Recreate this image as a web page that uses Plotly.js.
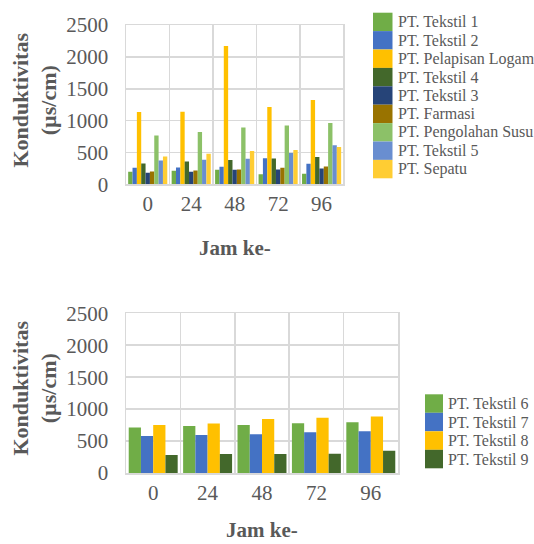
<!DOCTYPE html>
<html><head><meta charset="utf-8">
<script src="https://cdn.plot.ly/plotly-3.0.1.min.js"></script>
<style>body{margin:0;padding:0;background:#fff}#c{width:534px;height:544px}</style>
</head><body><div id="c"></div>
<script>
const jam = ["0","24","48","72","96"];
const namesTop = ["PT. Tekstil 1","PT. Tekstil 2","PT. Pelapisan Logam","PT. Tekstil 4","PT. Tekstil 3","PT. Farmasi","PT. Pengolahan Susu","PT. Tekstil 5","PT. Sepatu"];
const tekstil1 = [200, 214, 230, 162, 167];
const tekstil2 = [261, 267, 277, 413, 324];
const pelapisanLogam = [1135, 1140, 2170, 1213, 1323];
const tekstil4 = [330, 361, 382, 408, 429];
const tekstil3 = [183, 199, 230, 235, 251];
const farmasi = [204, 220, 235, 261, 282];
const pengolahanSusu = [769, 821, 894, 926, 962];
const tekstil5 = [377, 387, 403, 492, 617];
const sepatu = [439, 481, 523, 539, 586];
const namesBottom = ["PT. Tekstil 6","PT. Tekstil 7","PT. Tekstil 8","PT. Tekstil 9"];
const tekstil6 = [711, 737, 753, 779, 795];
const tekstil7 = [581, 596, 607, 638, 654];
const tekstil8 = [753, 774, 847, 863, 884];
const tekstil9 = [282, 298, 298, 303, 350];
const xTitle = "Jam ke-";
const yTitle = "Konduktivitas<br>(µs/cm)";

const topVals = [tekstil1, tekstil2, pelapisanLogam, tekstil4, tekstil3, farmasi, pengolahanSusu, tekstil5, sepatu];
const topColors = ["#70AD47","#4472C4","#FFC000","#43682B","#264478","#997300","#8CC168","#698ED0","#FFCD33"];
const botVals = [tekstil6, tekstil7, tekstil8, tekstil9];
const botColors = ["#70AD47","#4472C4","#FFC000","#43682B"];

const FONT = "Liberation Serif";
const GREY = "#595959";
const GRID = "#D9D9D9";
const traces = [];
topVals.forEach((v,i)=>traces.push({type:"bar",x:jam,y:v,name:namesTop[i],marker:{color:topColors[i]},xaxis:"x",yaxis:"y",showlegend:false}));
botVals.forEach((v,i)=>traces.push({type:"bar",x:jam,y:v,name:namesBottom[i],marker:{color:botColors[i]},xaxis:"x2",yaxis:"y2",showlegend:false}));

function xa(domain, anchor){
  return {domain:domain, anchor:anchor, type:"category", tickson:"boundaries", showgrid:true, gridcolor:GRID, gridwidth:1.5,
    showline:true, mirror:true, linecolor:GRID, linewidth:1.5,
    ticks:"outside", ticklen:29, tickcolor:"rgba(0,0,0,0)", tickfont:{family:FONT,size:21,color:GREY},
    automargin:false, fixedrange:true};
}
function ya(domain, anchor){
  return {domain:domain, anchor:anchor, range:[0,2500], dtick:500, showgrid:true, gridcolor:GRID, gridwidth:1.5,
    zeroline:false, showline:true, mirror:true, linecolor:GRID, linewidth:1.5,
    ticks:"outside", ticklen:12, tickcolor:"rgba(0,0,0,0)", tickfont:{family:FONT,size:21,color:GREY},
    automargin:false, fixedrange:true};
}

// legend and axis titles placed in paper coordinates (layout only)
const L=126, R=136, T=25, B=71, W=534, H=544;
const px = v => (v-L)/(W-L-R);
const py = v => (H-B-v)/(H-T-B);
const shapes=[], annotations=[];
function legend(names, colors, x0, y0, sw, rowH){
  names.forEach((n,i)=>{
    shapes.push({type:"rect", xref:"paper", yref:"paper", x0:px(x0), x1:px(x0+sw), y0:py(y0+i*rowH), y1:py(y0+(i+1)*rowH), fillcolor:colors[i], line:{width:0}});
    annotations.push({xref:"paper", yref:"paper", x:px(x0+sw+3), y:py(y0+(i+0.5)*rowH), xanchor:"left", yanchor:"middle", text:n, showarrow:false, font:{family:FONT,size:16,color:GREY}});
  });
}
legend(namesTop, topColors, 373, 12.7, 19.5, 18.4);
legend(namesBottom, botColors, 425, 394.3, 18, 18.5);
function titles(cx, cy, yx, yy){
  annotations.push({xref:"paper", yref:"paper", x:px(cx), y:py(cy), xanchor:"center", yanchor:"middle", text:xTitle, showarrow:false, font:{family:FONT,size:21,color:GREY,weight:"bold"}});
  annotations.push({xref:"paper", yref:"paper", x:px(yx), y:py(yy), xanchor:"center", yanchor:"middle", textangle:-90, text:yTitle, showarrow:false, font:{family:FONT,size:22,color:GREY,weight:"bold"}});
}
titles(235, 248, 34.5, 100);
titles(262, 530, 34.5, 388);

const layout = {
  width:W, height:H, paper_bgcolor:"#fff", plot_bgcolor:"#fff",
  margin:{l:L, r:R, t:T, b:B},
  barmode:"group", bargap:0.1, bargroupgap:0,
  xaxis: xa([0,0.799],"y"),
  yaxis: ya([0.644,1],"x"),
  xaxis2: xa([0,1],"y2"),
  yaxis2: ya([0,0.3565],"x2"),
  showlegend:false, shapes:shapes, annotations:annotations
};
Plotly.newPlot("c", traces, layout, {staticPlot:true});
</script></body></html>
